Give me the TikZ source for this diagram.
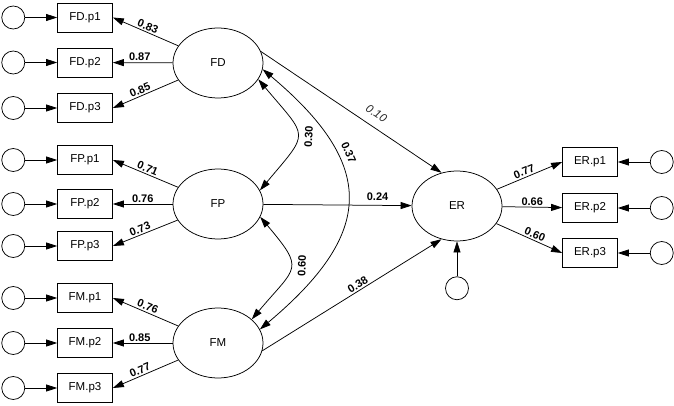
\documentclass[tikz,border=0pt]{standalone}
\usepackage{fontspec}
\setmainfont{Liberation Sans}
\usetikzlibrary{arrows.meta,positioning,shapes.geometric}
\definecolor{muted}{HTML}{262626}
\tikzset{
  latent/.style={draw,ellipse,minimum width=90pt,minimum height=70pt,
    inner sep=0pt,font=\fontsize{11.5}{13}\selectfont},
  indicator/.style={draw,rectangle,minimum width=55pt,minimum height=29pt,
    inner sep=1pt,font=\fontsize{11.5}{13}\selectfont},
  errvar/.style={draw,circle,minimum size=23pt,inner sep=0pt},
  regress/.style={-{Triangle[length=11pt,width=7pt]}},
  cov/.style={{Triangle[length=11pt,width=7pt]}-{Triangle[length=11pt,width=7pt]}},
  coef/.style={font=\bfseries\fontsize{11}{12}\selectfont,inner sep=1.5pt},
  nscoef/.style={font=\itshape\fontsize{11.5}{12}\selectfont,text=muted,inner sep=1.5pt}
}

\begin{document}
\begin{tikzpicture}[x=1pt,y=1pt,line width=0.75pt,node distance=32pt]
  \useasboundingbox (0,0) rectangle (674,-406);
  % latent factors
  \node[latent] (fd) at (218,-63) {FD};
  \node[latent] (fp) at (218,-204) {FP};
  \node[latent] (fm) at (218,-343) {FM};
  \node[latent] (er) at (457,-206) {ER};
  % indicators
  \node[indicator] (fd1) at (85,-17.5) {FD.p1};
  \node[indicator] (fd2) at (85,-62.5) {FD.p2};
  \node[indicator] (fd3) at (85,-108) {FD.p3};
  \node[indicator] (fp1) at (85,-160) {FP.p1};
  \node[indicator] (fp2) at (85,-204) {FP.p2};
  \node[indicator] (fp3) at (85,-246) {FP.p3};
  \node[indicator] (fm1) at (85,-298) {FM.p1};
  \node[indicator] (fm2) at (85,-343) {FM.p2};
  \node[indicator] (fm3) at (85,-388) {FM.p3};
  \node[indicator] (er1) at (590,-162) {ER.p1};
  \node[indicator] (er2) at (590,-208) {ER.p2};
  \node[indicator] (er3) at (590,-253) {ER.p3};
  % error terms
  \node[errvar,left=of fd1] (efd1) {};
  \node[errvar,left=of fd2] (efd2) {};
  \node[errvar,left=of fd3] (efd3) {};
  \node[errvar,left=of fp1] (efp1) {};
  \node[errvar,left=of fp2] (efp2) {};
  \node[errvar,left=of fp3] (efp3) {};
  \node[errvar,left=of fm1] (efm1) {};
  \node[errvar,left=of fm2] (efm2) {};
  \node[errvar,left=of fm3] (efm3) {};
  \node[errvar,right=of er1] (eer1) {};
  \node[errvar,right=of er2] (eer2) {};
  \node[errvar,right=of er3] (eer3) {};
  \node[errvar,below=35pt of er] (eer) {};
  \draw[regress] (efd1)--(fd1);
  \draw[regress] (efd2)--(fd2);
  \draw[regress] (efd3)--(fd3);
  \draw[regress] (efp1)--(fp1);
  \draw[regress] (efp2)--(fp2);
  \draw[regress] (efp3)--(fp3);
  \draw[regress] (efm1)--(fm1);
  \draw[regress] (efm2)--(fm2);
  \draw[regress] (efm3)--(fm3);
  \draw[regress] (eer1)--(er1);
  \draw[regress] (eer2)--(er2);
  \draw[regress] (eer3)--(er3);
  \draw[regress] (eer)--(er);
  % loadings
  \draw[regress] (fd)--node[coef,sloped,above]{0.83}(fd1.east);
  \draw[regress] (fd)--node[coef,above,pos=0.55]{0.87}(fd2);
  \draw[regress] (fd)--node[coef,sloped,above,pos=0.55]{0.85}(fd3.east);
  \draw[regress] (fp)--node[coef,sloped,above]{0.71}(fp1.east);
  \draw[regress] (fp)--node[coef,above,pos=0.5]{0.76}(fp2);
  \draw[regress] (fp)--node[coef,sloped,above,pos=0.55]{0.73}(fp3.east);
  \draw[regress] (fm)--node[coef,sloped,above]{0.76}(fm1.east);
  \draw[regress] (fm)--node[coef,above,pos=0.55]{0.85}(fm2);
  \draw[regress] (fm)--node[coef,sloped,above,pos=0.55]{0.77}(fm3.east);
  \draw[regress] (er)--node[coef,sloped,above,pos=0.45]{0.77}(er1.west);
  \draw[regress] (er)--node[coef,above,pos=0.5]{0.66}(er2);
  \draw[regress] (er)--node[coef,sloped,above,pos=0.55]{0.60}(er3.west);
  % structural paths
  \draw[regress] (fd.15)--node[nscoef,sloped,above=7pt,pos=0.6]{0.10}(er.115);
  \draw[regress] (fp)--node[coef,above=3pt,pos=0.77]{0.24}(er);
  \draw[regress] (fm.-10)--node[coef,sloped,above,pos=0.55]{0.38}(er.-115);
  % factor covariances
  \draw[cov] (fd.-22) to[out=-50,in=50,looseness=1.8]
    node[coef,sloped,below=6pt,pos=0.52]{0.30} (fp.18);
  \draw[cov] (fp.-17) to[out=-50,in=50,looseness=1.75]
    node[coef,sloped,below=6pt,pos=0.46]{0.60} (fm.35);
  \draw[cov] (fd.-8) to[out=-40,in=40,looseness=1.47]
    node[coef,sloped,above=6pt,pos=0.33]{0.37} (fm.18);
\end{tikzpicture}
\end{document}
